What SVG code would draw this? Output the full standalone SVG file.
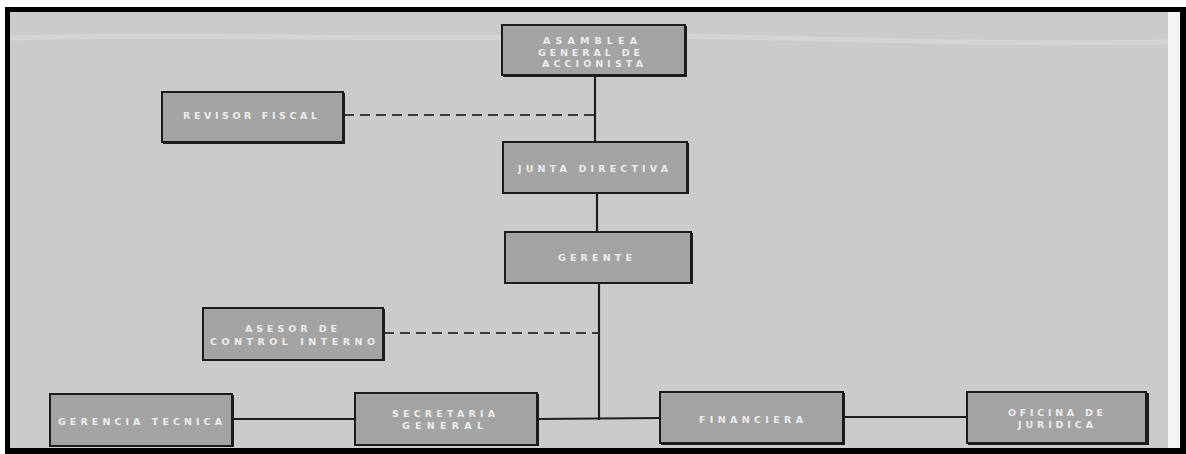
<svg xmlns="http://www.w3.org/2000/svg" width="1186" height="454" viewBox="0 0 1186 454">
<style>
.box{fill:#a3a3a3;stroke:#1c1c1c;stroke-width:2}
.sh{fill:#1c1c1c}
.t{font-family:"DejaVu Sans","Liberation Sans",sans-serif;font-weight:bold;font-size:9.5px;fill:#ececec;text-anchor:start;dominant-baseline:central}
.ln{stroke:#1e1e1e;stroke-width:2.2;fill:none}
.dl{stroke:#3a3a3a;stroke-width:2.2;fill:none;stroke-dasharray:10 6}
</style>
<rect x="0" y="0" width="1186" height="454" fill="#ffffff"/>
<g id="frame">
<rect x="5" y="7" width="1181" height="447" fill="#000"/>
<rect x="10" y="12" width="1170" height="436" fill="#f4f4f4"/>
<rect x="10" y="12" width="1158" height="436" fill="#cbcbcb"/>
<path d="M10 38 C200 32 400 42 560 36 C700 32 900 46 1168 42" stroke="#dadada" stroke-width="5" fill="none" opacity="0.6"/>
</g>
<g id="connectors">
<line class="ln" x1="595" y1="75" x2="595" y2="142"/>
<line class="ln" x1="597" y1="193" x2="597" y2="232"/>
<line class="ln" x1="599" y1="283" x2="599" y2="420"/>
<line class="dl" x1="344" y1="115" x2="595" y2="115"/>
<line class="dl" x1="384" y1="333" x2="599" y2="333"/>
<line class="ln" x1="232" y1="419" x2="355" y2="419" stroke-width="1.6"/>
<line class="ln" x1="537" y1="419" x2="660" y2="418" stroke-width="1.6"/>
<line class="ln" x1="843" y1="417" x2="967" y2="417" stroke-width="1.6"/>
</g>
<g id="asamblea">
<rect class="sh" x="503" y="26" width="184" height="51"/>
<rect class="box" x="502" y="25" width="183" height="50"/>
<text class="t" x="543" y="40" textLength="94" lengthAdjust="spacing">ASAMBLEA</text>
<text class="t" x="538" y="52" textLength="102" lengthAdjust="spacing">GENERAL DE</text>
<text class="t" x="542" y="63" textLength="101" lengthAdjust="spacing">ACCIONISTA</text>
</g>
<g id="revisor">
<rect class="sh" x="163" y="93" width="182" height="51"/>
<rect class="box" x="162" y="92" width="181" height="50"/>
<text class="t" x="183" y="115" textLength="134" lengthAdjust="spacing">REVISOR FISCAL</text>
</g>
<g id="junta">
<rect class="sh" x="504" y="143" width="185" height="51"/>
<rect class="box" x="503" y="142" width="184" height="51"/>
<text class="t" x="518" y="168" textLength="150" lengthAdjust="spacing">JUNTA DIRECTIVA</text>
</g>
<g id="gerente">
<rect class="sh" x="506" y="233" width="187" height="51"/>
<rect class="box" x="505" y="232" width="186" height="51"/>
<text class="t" x="558" y="257" textLength="74" lengthAdjust="spacing">GERENTE</text>
</g>
<g id="asesor">
<rect class="sh" x="204" y="309" width="181" height="52"/>
<rect class="box" x="203" y="308" width="180" height="52"/>
<text class="t" x="245" y="328" textLength="92" lengthAdjust="spacing">ASESOR DE</text>
<text class="t" x="210" y="341" textLength="165" lengthAdjust="spacing">CONTROL INTERNO</text>
</g>
<g id="gerencia-tecnica">
<rect class="sh" x="51" y="395" width="183" height="52"/>
<rect class="box" x="50" y="394" width="182" height="52"/>
<text class="t" x="58" y="421" textLength="164" lengthAdjust="spacing">GERENCIA TECNICA</text>
</g>
<g id="secretaria">
<rect class="sh" x="356" y="394" width="183" height="52"/>
<rect class="box" x="355" y="393" width="182" height="52"/>
<text class="t" x="392" y="413" textLength="103" lengthAdjust="spacing">SECRETARIA</text>
<text class="t" x="402" y="425" textLength="81" lengthAdjust="spacing">GENERAL</text>
</g>
<g id="financiera">
<rect class="sh" x="661" y="393" width="184" height="52"/>
<rect class="box" x="660" y="392" width="183" height="51"/>
<text class="t" x="699" y="419" textLength="104" lengthAdjust="spacing">FINANCIERA</text>
</g>
<g id="oficina">
<rect class="sh" x="968" y="393" width="181" height="52"/>
<rect class="box" x="967" y="392" width="179" height="51"/>
<text class="t" x="1008" y="412" textLength="95" lengthAdjust="spacing">OFICINA DE</text>
<text class="t" x="1018" y="424" textLength="75" lengthAdjust="spacing">JURIDICA</text>
</g>
</svg>
